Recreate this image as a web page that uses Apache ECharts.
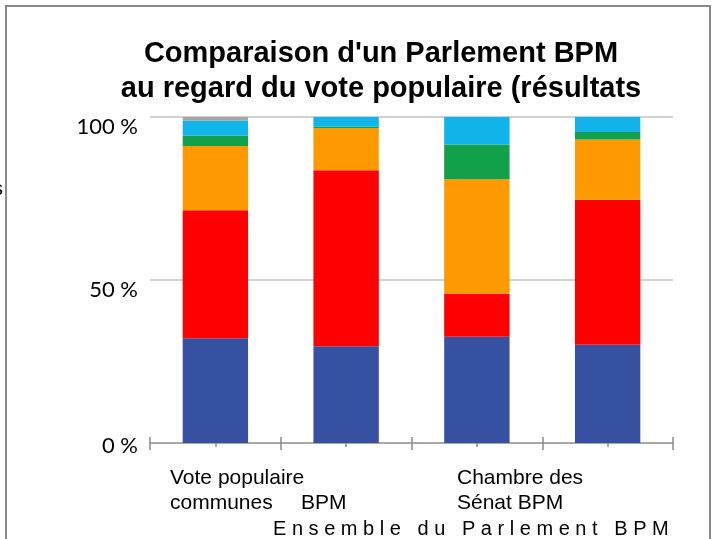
<!DOCTYPE html>
<html>
<head>
<meta charset="utf-8">
<script src="https://cdn.jsdelivr.net/npm/echarts@6/dist/echarts.min.js"></script>
<style>
  html, body { margin: 0; padding: 0; background: #fff; }
  #main { width: 713px; height: 539px; }
</style>
</head>
<body>
<div id="main"></div>
<script>
// categories (the chart shows them overlapped, see graphic labels below)
const categories = ["Vote populaire", "Chambre des communes BPM", "Sénat BPM", "Ensemble du Parlement BPM"];
const yTicks = [0, 50, 100];

// share of each party, in %
const conservateur = [32.1, 29.7, 32.6, 30.1];
const liberal = [39.3, 54.0, 13.2, 44.5];
const npd = [19.7, 12.9, 35.1, 18.5];
const vert = [3.2, 0.4, 10.7, 2.3];
const bloc = [4.6, 3.0, 8.4, 4.6];
const autres = [1.1, 0, 0, 0];

const seriesNames = ["Conservateur", "Libéral", "NPD", "Vert", "Bloc Québécois", "Autres"];
const seriesData = [conservateur, liberal, npd, vert, bloc, autres];
const colors = ["#3651a2", "#ff0000", "#ff9900", "#13a04a", "#10b4e8", "#a6a6a6"];

const labelFont = "Liberation Sans, Arial, sans-serif";

let myChart = echarts.init(document.getElementById("main"));

// four overlaid x axes so the ticks cross the axis line
function xAx(showLine, inside, len, center) {
  return {
    type: "category",
    data: categories,
    position: "bottom",
    axisLine: { show: showLine, lineStyle: { color: "#9a9a9a", width: 1.5 } },
    axisTick: {
      show: true,
      interval: 0,
      inside: inside,
      length: len,
      alignWithLabel: center,
      lineStyle: { color: "#8a8a8a", width: 1.5 },
    },
    axisLabel: { show: false },
    splitLine: { show: false },
  };
}

function label(text, x, y, size) {
  return {
    type: "text",
    x: x,
    y: y,
    style: { text: text, verticalAlign: "middle", font: size + "px " + labelFont, fill: "#000" },
  };
}

const option = {
  animation: false,
  color: colors,
  title: {
    text: "Comparaison d'un Parlement BPM\nau regard du vote populaire (résultats",
    left: 376,
    top: 31,
    textAlign: "center",
    textStyle: {
      fontFamily: labelFont,
      fontWeight: "bold",
      fontSize: 29,
      lineHeight: 35,
      color: "#000",
    },
  },
  grid: {
    left: 150,
    right: 40,
    top: 117,
    bottom: 96,
  },
  xAxis: [
    xAx(true, false, 7, false),
    xAx(false, true, 6, false),
    xAx(false, false, 4, true),
    xAx(false, true, 4, true),
  ],
  yAxis: {
    type: "value",
    min: yTicks[0],
    max: yTicks[yTicks.length - 1],
    interval: 50,
    axisLine: { show: false },
    axisTick: { show: false },
    splitLine: { lineStyle: { color: "#d0d0d0", width: 2 } },
    axisLabel: {
      margin: 12,
      formatter: function (v) {
        return v === 0 ? "{z|" + v + " %}" : "{a|" + v + " %}";
      },
      rich: {
        a: { fontFamily: "Lato", fontSize: 22, color: "#000", padding: [20, 0, 0, 0] },
        z: { fontFamily: "Lato", fontSize: 22, color: "#000", padding: [5, 0, 0, 0] },
      },
    },
  },
  series: seriesNames.map((name, i) => ({
    name: name,
    type: "bar",
    stack: "total",
    barWidth: "50%",
    xAxisIndex: 0,
    data: seriesData[i],
  })),
  graphic: [
    // outer frame
    {
      type: "rect",
      shape: { x: 6, y: 6, width: 704, height: 600 },
      style: { fill: "none", stroke: "#898989", lineWidth: 2 },
      silent: true,
    },
    // clipped axis title fragment on the left edge
    {
      type: "text",
      x: 3,
      y: 189,
      style: { text: "s", align: "right", verticalAlign: "middle", font: "21px " + labelFont, fill: "#000" },
    },
    // category labels, as they appear (overlapping) in the original
    label("Vote populaire", 170, 478, 21),
    label("communes", 170, 503, 21),
    label("BPM", 301, 503, 21),
    label("Chambre des", 457, 478, 21),
    label("Sénat BPM", 457, 503, 21),
    label("E n s e m b l e   d u   P a r l e m e n t   B P M", 273, 529, 20),
  ],
};

myChart.setOption(option);
</script>
</body>
</html>
